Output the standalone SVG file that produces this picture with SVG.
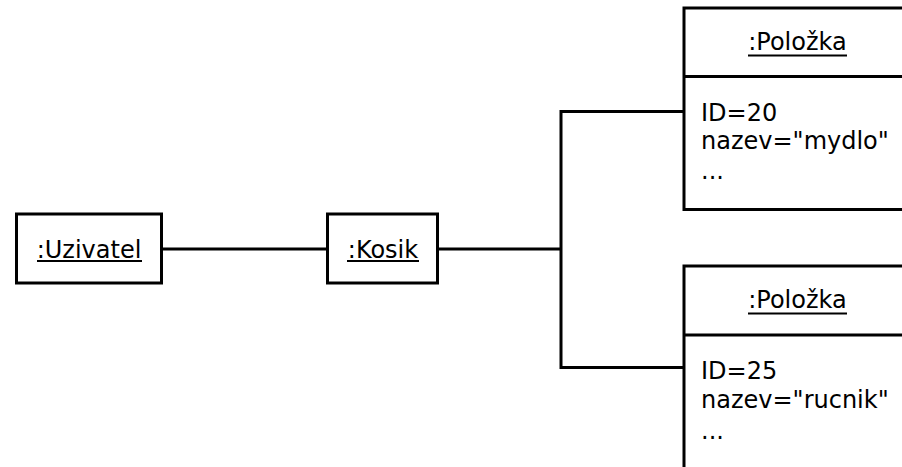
<svg xmlns="http://www.w3.org/2000/svg" width="902" height="467" viewBox="0 0 902 467">
<style>
.box{fill:#fff;stroke:#000;stroke-width:3}
.conn{fill:none;stroke:#000;stroke-width:3}
.ul{stroke:#000;stroke-width:2}
text{font-family:"DejaVu Sans",sans-serif;font-size:24px;fill:#000}
.c{text-anchor:middle}
</style>
<rect width="902" height="467" fill="#fff"/>
<g id="connectors">
<line class="conn" x1="162" y1="249" x2="327" y2="249"/>
<line class="conn" x1="438" y1="249" x2="561" y2="249"/>
<polyline class="conn" points="684,111.5 561,111.5 561,367.5 684,367.5"/>
</g>
<g id="uzivatel">
<rect class="box" x="16.5" y="214" width="145" height="69"/>
<text class="c" x="89" y="257.5">:Uzivatel</text>
<line class="ul" x1="37" y1="261" x2="142" y2="261"/>
</g>
<g id="kosik">
<rect class="box" x="327.5" y="214" width="110" height="69"/>
<text class="c" x="383" y="257.5">:Kosik</text>
<line class="ul" x1="347" y1="261" x2="419" y2="261"/>
</g>
<g id="polozka1">
<rect class="box" x="684" y="8" width="230" height="201.5"/>
<line class="box" x1="684" y1="76.5" x2="914" y2="76.5"/>
<text class="c" x="797.5" y="50">:Položka</text>
<line class="ul" x1="748" y1="55.5" x2="847" y2="55.5"/>
<text x="701" y="121">ID=20</text>
<text x="701" y="149">nazev="mydlo"</text>
<text x="701" y="179">...</text>
</g>
<g id="polozka2">
<rect class="box" x="684" y="266" width="230" height="220"/>
<line class="box" x1="684" y1="335" x2="914" y2="335"/>
<text class="c" x="797.5" y="308">:Položka</text>
<line class="ul" x1="748" y1="313.5" x2="847" y2="313.5"/>
<text x="701" y="379">ID=25</text>
<text x="701" y="408">nazev="rucnik"</text>
<text x="701" y="439">...</text>
</g>
</svg>
